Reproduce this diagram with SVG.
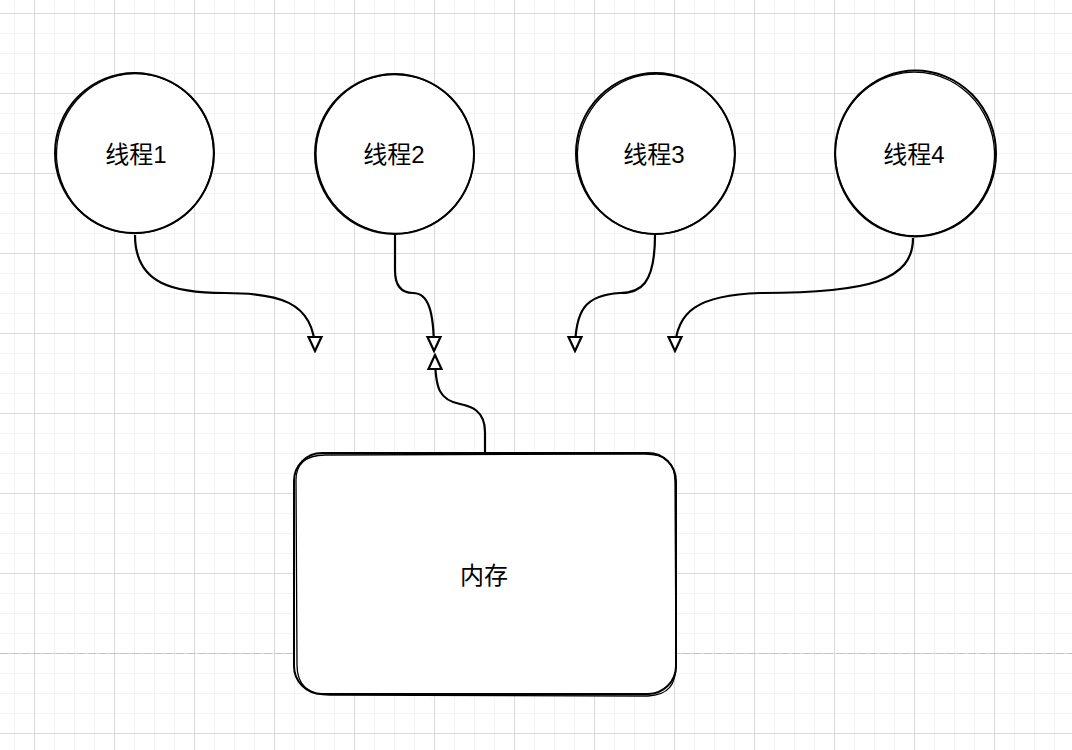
<svg xmlns="http://www.w3.org/2000/svg" width="1072" height="750" viewBox="0 0 1072 750">
  <defs>
    <pattern id="grid" patternUnits="userSpaceOnUse" x="14" y="13" width="80" height="80">
      <path d="M0.5,0 V80 M40.5,0 V80 M60.5,0 V80 M0,20.5 H80 M0,40.5 H80 M0,60.5 H80" stroke="#f3f3f3" stroke-width="1" fill="none"/>
      <path d="M20.5,0 V80 M0,0.5 H80" stroke="#dadada" stroke-width="1" fill="none"/>
    </pattern>
    <marker id="arrow" markerUnits="userSpaceOnUse" viewBox="-2 -2 18 18" markerWidth="18" markerHeight="18" refX="14" refY="7" orient="auto">
      <path d="M0,0.5 L14,7 L0,13.5 Z" fill="#ffffff" stroke="#000000" stroke-width="2.2" stroke-linejoin="miter"/>
    </marker>
    <style>
      .shape { fill: #ffffff; stroke: #000000; stroke-width: 2; }
      .sketch { fill: none; stroke: #000000; stroke-width: 1.3; }
      .edge { fill: none; stroke: #000000; stroke-width: 2.2; marker-end: url(#arrow); }
      .label { font-family: "Liberation Sans", "Noto Sans CJK SC", sans-serif; font-size: 24px; fill: #000000; text-anchor: middle; dominant-baseline: central; }
    </style>
  </defs>

  <rect x="0" y="0" width="1072" height="750" fill="#ffffff"/>
  <rect x="0" y="0" width="1072" height="750" fill="url(#grid)"/>
  <line x1="0" y1="653.5" x2="1072" y2="653.5" stroke="#c4c4c4" stroke-width="1" stroke-dasharray="8 3"/>

  <g id="connectors">
    <path class="edge" d="M135,235 C135,285 175,293 225,293 C275,293 315,300 315,351"/>
    <path class="edge" d="M395,235 L395,270 C395,290 405,293 413,293 C428,293 434,310 434,351"/>
    <path class="edge" d="M485,453 L485,432 C485,410 470,406 460,404 C440,400 435,390 435,355"/>
    <path class="edge" d="M655,235 C655,285 640,293 620,293 C585,295 575,310 575,351"/>
    <path class="edge" d="M913,238 C913,280 870,293 760,293 C700,295 675,310 675,351"/>
  </g>

  <g id="thread1">
    <ellipse class="shape" cx="134.5" cy="153" rx="79.5" ry="80"/>
    <ellipse class="sketch" cx="135" cy="153.5" rx="78.5" ry="80" transform="rotate(8 135 153.5)"/>
    <text class="label" x="136" y="154">线程1</text>
  </g>
  <g id="thread2">
    <ellipse class="shape" cx="394.5" cy="154" rx="79.5" ry="80"/>
    <ellipse class="sketch" cx="395" cy="154" rx="79" ry="79.5" transform="rotate(-10 395 154)"/>
    <text class="label" x="394" y="154">线程2</text>
  </g>
  <g id="thread3">
    <ellipse class="shape" cx="655.5" cy="153.5" rx="79.5" ry="80.5"/>
    <ellipse class="sketch" cx="656" cy="154" rx="78.5" ry="80" transform="rotate(12 656 154)"/>
    <text class="label" x="654" y="154">线程3</text>
  </g>
  <g id="thread4">
    <ellipse class="shape" cx="915.5" cy="153.5" rx="80.5" ry="83"/>
    <ellipse class="sketch" cx="915" cy="154" rx="79.5" ry="82" transform="rotate(-8 915 154)"/>
    <text class="label" x="914" y="154">线程4</text>
  </g>

  <g id="memory">
    <rect class="shape" x="294" y="453" width="382" height="241" rx="28" ry="28"/>
    <path class="sketch" d="M296,480 C296,465 305,455 325,455 L645,454 C665,454 675,462 675,482 L676,665 C676,685 668,695 648,696 L330,695 C308,695 297,685 297,665 Z"/>
    <text class="label" x="484" y="575">内存</text>
  </g>
</svg>
